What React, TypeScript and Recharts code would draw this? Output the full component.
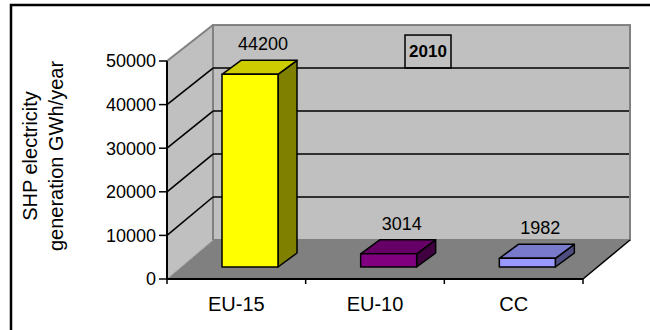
import React from 'react';
import { BarChart, Bar, XAxis, YAxis, ReferenceArea, LabelList, Label } from 'recharts';

// ---- data ----
const categories = ['EU-15', 'EU-10', 'CC'];
const values = [44200, 3014, 1982];
const yTicks = [0, 10000, 20000, 30000, 40000, 50000];
const seriesName = '2010';
const axisTitleLines = ['SHP electricity', 'generation GWh/year'];
const frontColors = ['#ffff00', '#800080', '#9999ff'];
const topColors = ['#cccc00', '#660066', '#7a7acc'];
const sideColors = ['#808000', '#400040', '#4d4d80'];

const data = categories.map((c, i) => ({ name: c, value: values[i] }));

const FONT = "'Liberation Sans', Arial, sans-serif";
const yMax = yTicks[yTicks.length - 1];
const WALL_DX = 46;
const WALL_DY = 39;
const BAR_SHIFT_X = 14;
const BAR_SHIFT_Y = 12;
const BAR_DX = 19;
const BAR_DY = 14;

function Walls(props: any) {
  const { x, y, width, height } = props;
  const bottom = y + height;
  const frontY = (v: number) => bottom - (height * v) / yMax;
  const backY = (v: number) => bottom - WALL_DY - (height * 0.986 * v) / yMax;
  const bl = x + WALL_DX;
  const br = x + width + WALL_DX + 1;
  const backTop = backY(yMax);
  const backBottom = backY(0);
  const inner = yTicks.filter((t) => t > 0 && t < yMax);
  const step = width / categories.length;
  const boxCx = x + width / 2 + 53;
  const boxBottom = backY(40000);
  return (
    <g>
      <rect x={11} y={5} width={700} height={400} fill="none" stroke="#000" strokeWidth={2.5} />
      {/* side wall */}
      <polygon
        points={`${x},${frontY(yMax)} ${bl},${backTop} ${bl},${backBottom} ${x},${bottom}`}
        fill="#c0c0c0"
        stroke="none"
      />
      {/* back wall */}
      <rect x={bl} y={backTop} width={br - bl} height={backBottom - backTop} fill="#c0c0c0" stroke="#808080" strokeWidth={2} />
      <line x1={x} y1={frontY(yMax)} x2={bl} y2={backTop} stroke="#808080" strokeWidth={2} />
      {/* floor */}
      <polygon
        points={`${x},${bottom} ${bl},${backBottom} ${br},${backBottom} ${x + width},${bottom}`}
        fill="#808080"
        stroke="none"
      />
      <line x1={x} y1={bottom} x2={bl} y2={backBottom} stroke="#a8a8a8" strokeWidth={1} />
      <line x1={bl} y1={backBottom} x2={bl} y2={backTop} stroke="#808080" strokeWidth={1.5} />
      <line x1={x + width} y1={bottom} x2={br} y2={backBottom} stroke="#000" strokeWidth={1.5} />
      {/* gridlines */}
      {inner.map((t) => (
        <g key={t} stroke="#000" strokeWidth={1.6} fill="none">
          <line x1={x} y1={frontY(t)} x2={bl} y2={backY(t)} />
          <line x1={bl} y1={backY(t)} x2={br - 1} y2={backY(t)} />
        </g>
      ))}
      {/* category boundary ticks */}
      {Array.from({ length: categories.length + 1 }).map((_, i) => (
        <line key={i} x1={x + i * step} y1={bottom} x2={x + i * step} y2={bottom + 5} stroke="#000" strokeWidth={1.5} />
      ))}
      {/* series box */}
      <rect x={boxCx - 23} y={boxBottom - 33} width={46} height={33} fill="none" stroke="#000" strokeWidth={1.5} />
      <text x={boxCx} y={boxBottom - 11} textAnchor="middle" fontFamily={FONT} fontSize={17} fontWeight="bold" fill="#000">
        {seriesName}
      </text>
    </g>
  );
}

function Box3D(props: any) {
  const { x, y, width, height, index } = props;
  if (x == null || y == null) return null;
  const fx = x + BAR_SHIFT_X;
  const fy = y - BAR_SHIFT_Y;
  const top = `${fx},${fy} ${fx + BAR_DX},${fy - BAR_DY} ${fx + width + BAR_DX},${fy - BAR_DY} ${fx + width},${fy}`;
  const side = `${fx + width},${fy} ${fx + width + BAR_DX},${fy - BAR_DY} ${fx + width + BAR_DX},${fy + height - BAR_DY} ${fx + width},${fy + height}`;
  return (
    <g stroke="#000" strokeWidth={1.5} strokeLinejoin="round">
      <polygon points={side} fill={sideColors[index]} />
      <polygon points={top} fill={topColors[index]} />
      <rect x={fx} y={fy} width={width} height={height} fill={frontColors[index]} />
    </g>
  );
}

function ValueLabel(props: any) {
  const vb = props.viewBox && props.viewBox.width != null ? props.viewBox : props;
  const { x, y, width } = vb;
  return (
    <text x={x + width / 2 + 27} y={y - 36} textAnchor="middle" fontFamily={FONT} fontSize={18} fill="#000">
      {props.value}
    </text>
  );
}

function YTitle() {
  const cy = 156;
  return (
    <g fontFamily={FONT} fontSize={20} fill="#000">
      <text x={37} y={cy} transform={`rotate(-90, 37, ${cy})`} textAnchor="middle">
        {axisTitleLines[0]}
      </text>
      <text x={63} y={cy} transform={`rotate(-90, 63, ${cy})`} textAnchor="middle">
        {axisTitleLines[1]}
      </text>
    </g>
  );
}

export default function App() {
  return (
    <div style={{ position: 'absolute', left: 0, top: 0, width: 650, height: 330, overflow: 'hidden', background: '#fff' }}>
      <BarChart
        width={650}
        height={330}
        data={data}
        margin={{ top: 61, right: 67, bottom: 21, left: 67 }}
        barSize={56}
      >
        <ReferenceArea y1={0} y2={yMax} ifOverflow="visible" shape={Walls} zIndex={-60} />
        <Bar dataKey="value" name={seriesName} shape={Box3D} isAnimationActive={false}>
          <LabelList dataKey="value" content={ValueLabel} />
        </Bar>
        <XAxis
          dataKey="name"
          height={30}
          tickLine={false}
          axisLine={{ stroke: '#000', strokeWidth: 2 }}
          tickSize={5}
          tickMargin={13}
          tick={{ fontSize: 20, fill: '#000', fontFamily: FONT }}
        />
        <YAxis
          width={100}
          domain={[0, yMax]}
          ticks={yTicks}
          interval={0}
          tickSize={8}
          tickMargin={3}
          axisLine={{ stroke: '#000', strokeWidth: 2 }}
          tickLine={{ stroke: '#000', strokeWidth: 1.5 }}
          tick={{ fontSize: 18, fill: '#000', fontFamily: FONT }}
        >
          <Label content={YTitle} />
        </YAxis>
      </BarChart>
    </div>
  );
}
